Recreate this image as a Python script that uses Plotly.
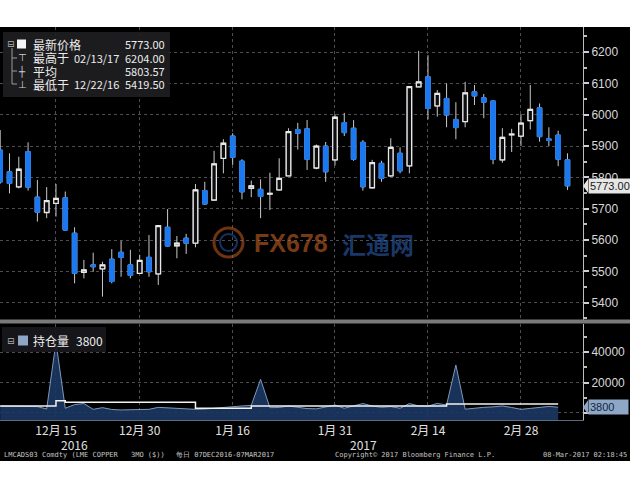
import plotly.graph_objects as go

# ---------------- data ----------------
dates = ["2016-12-07","2016-12-08","2016-12-09","2016-12-12","2016-12-13","2016-12-14","2016-12-15",
         "2016-12-16","2016-12-19","2016-12-20","2016-12-21","2016-12-22","2016-12-23","2016-12-28",
         "2016-12-29","2016-12-30","2017-01-03","2017-01-04","2017-01-05","2017-01-06","2017-01-09",
         "2017-01-10","2017-01-11","2017-01-12","2017-01-13","2017-01-16","2017-01-17","2017-01-18",
         "2017-01-19","2017-01-20","2017-01-23","2017-01-24","2017-01-25","2017-01-26","2017-01-27",
         "2017-01-30","2017-01-31","2017-02-01","2017-02-02","2017-02-03","2017-02-06","2017-02-07",
         "2017-02-08","2017-02-09","2017-02-10","2017-02-13","2017-02-14","2017-02-15","2017-02-16",
         "2017-02-17","2017-02-20","2017-02-21","2017-02-22","2017-02-23","2017-02-24","2017-02-27",
         "2017-02-28","2017-03-01","2017-03-02","2017-03-03","2017-03-06","2017-03-07"]

open_ = [5887,5818,5770,5882,5737,5688,5717,5735,5622,5497,5521,5508,5539,5561,5521,5494,
         5545,5492,5641,5582,5606,5590,5758,5728,5861,5932,5852,5765,5762,5747,5760,5805,
         5953,5955,5830,5900,5856,5975,5957,5912,5767,5845,5805,5877,5837,6089,6121,6028,
         6052,5985,5978,6073,6054,6044,5856,5936,5932,5981,6022,5923,5935,5856]
high = [5951,5877,5866,5912,5792,5769,5779,5755,5641,5537,5560,5531,5571,5598,5569,5553,
        5616,5648,5699,5613,5620,5779,5786,5885,5922,5941,5858,5790,5794,5815,5861,5957,
        5974,5983,5905,5913,6002,6006,5983,5919,5856,5853,5925,5896,6092,6204,6190,6079,
        6100,6040,6105,6095,6066,6045,5957,5955,6002,6095,6036,5960,5949,5877]
low = [5780,5749,5765,5758,5659,5670,5675,5630,5462,5478,5499,5419.5,5462,5483,5478,5492,
       5483,5457,5579,5542,5556,5577,5713,5726,5813,5840,5730,5737,5670,5696,5758,5804,
       5889,5824,5826,5786,5838,5932,5853,5758,5765,5786,5802,5813,5813,6088,5985,5994,
       5960,5922,5960,6031,5989,5842,5847,5881,5900,5953,5914,5900,5836,5760]
close = [5786,5781,5826,5769,5689,5726,5733,5632,5494,5505,5515,5521,5468,5545,5487,5535,
         5499,5646,5581,5590,5590,5760,5715,5843,5909,5864,5754,5773,5739,5749,5797,5946,
         5941,5858,5900,5818,5992,5943,5858,5770,5847,5797,5896,5821,6090,6105,6020,6068,
         5999,5959,6070,6060,6040,5858,5928,5938,5973,6017,5930,5918,5858,5773]

# open interest (持仓量); last trading day not yet reported
open_interest = [4500,4400,4300,4400,4200,2600,46500,3100,5500,6200,2400,3500,2300,2000,2100,2000,
                 2400,3700,3400,3200,3000,2400,2600,3200,3700,4000,4600,5000,22100,3500,3600,4600,
                 3800,2900,2700,3800,5200,3100,4800,6200,4600,3700,4200,3100,6200,4600,4500,6300,
                 5200,31500,2500,3200,3700,4000,4600,3600,2400,3000,3700,4300,3800,None]
oi_average = [4600,4600,4600,4600,4600,4600,8100,7000,7000,7000,7000,7000,7000,7000,7000,7000,
              7000,7000,7000,7000,7000,3100,3100,3100,3100,3100,3100,4600,4600,4600,4600,4600,
              4600,4600,4600,4600,4600,4600,4600,4600,4600,4600,4600,4600,4600,4600,4600,4600,
              5900,5900,5900,5900,5900,5900,5900,5900,5900,5900,5900,5900,5900,None]

tick_dates = ["2016-12-15","2016-12-30","2017-01-16","2017-01-31","2017-02-14","2017-02-28"]
tick_text = ["12月 15","12月 30","1月 16","1月 31","2月 14","2月 28"]
price_ticks = [5400,5500,5600,5700,5800,5900,6000,6100,6200]
oi_ticks = [0,20000,40000]
oi_tick_text = ["","20000","40000"]

last_price = 5773.00
high_price, high_date = 6204.00, "02/13/17"
avg_price = 5803.57
low_price, low_date = 5419.50, "12/22/16"
last_oi = 3800

# ---------------- style ----------------
BLUE = "#1a78f0"
WICK = "#c9c9c9"
WHITE = "#e8e8e8"
PLOT_BG = "#0c0c11"
FONT = "Noto Sans CJK SC, Liberation Sans, sans-serif"
NARROW = "Liberation Sans Narrow, Liberation Sans, sans-serif"
OI_MIN, OI_MAX = -4600, 58700

body_hi = [max(o, c) for o, c in zip(open_, close)]
body_lo = [min(o, c) for o, c in zip(open_, close)]
oi_floor = [OI_MIN if v is not None else None for v in open_interest]

fig = go.Figure()

# wicks
fig.add_trace(go.Candlestick(
    x=dates, open=open_, high=high, low=low, close=close,
    increasing=dict(line=dict(color=WICK, width=1), fillcolor="rgba(0,0,0,0)"),
    decreasing=dict(line=dict(color=WICK, width=1), fillcolor=BLUE),
    xaxis="x", yaxis="y", hoverinfo="skip", showlegend=False))
# bodies
fig.add_trace(go.Candlestick(
    x=dates, open=open_, high=body_hi, low=body_lo, close=close,
    increasing=dict(line=dict(color=WHITE, width=1.3), fillcolor=PLOT_BG),
    decreasing=dict(line=dict(color=BLUE, width=1), fillcolor=BLUE),
    xaxis="x", yaxis="y", hoverinfo="skip", showlegend=False))

# open interest area (filled down to panel floor)
fig.add_trace(go.Scatter(x=dates, y=oi_floor, mode="lines",
                         line=dict(width=0), xaxis="x2", yaxis="y2",
                         hoverinfo="skip", showlegend=False))
fig.add_trace(go.Scatter(x=dates, y=open_interest, mode="lines", fill="tonexty",
                         fillcolor="rgba(27,55,100,0.9)",
                         line=dict(color="#7f98ba", width=1),
                         xaxis="x2", yaxis="y2", hoverinfo="skip", showlegend=False))
fig.add_trace(go.Scatter(x=dates, y=oi_average, mode="lines", line=dict(color="#f2f2f2", width=1.5, shape="hv"),
                         xaxis="x2", yaxis="y2", hoverinfo="skip", showlegend=False))

H_TOP, H_BOT = 27, 420
PH = H_BOT - H_TOP
PW = 583


def px(x):
    return x / PW


def py(y):
    return (H_BOT - y) / PH


grid = dict(showgrid=True, gridcolor="#4c4c52", griddash="dot", gridwidth=1)

fig.update_layout(
    width=630, height=490,
    margin=dict(l=0, r=630 - PW, t=H_TOP, b=490 - H_BOT, autoexpand=False),
    paper_bgcolor="white", plot_bgcolor=PLOT_BG,
    showlegend=False, hovermode=False,
    font=dict(family=FONT, color="#dcdcdc"),
    xaxis=dict(domain=[0, 1], anchor="y", type="category", range=[-0.02, 62.67],
               tickvals=tick_dates, showticklabels=False, ticks="",
               rangeslider=dict(visible=False), zeroline=False, showline=False, **grid),
    xaxis2=dict(domain=[0, 1], anchor="y2", type="category", matches="x", range=[-0.02, 62.67],
                tickvals=tick_dates, ticktext=tick_text, ticks="",
                tickfont=dict(size=12, color="#e0e0e0", family=FONT),
                zeroline=False, showline=True, linecolor="#5a6b82", linewidth=1, **grid),
    yaxis=dict(domain=[py(320), 1], anchor="x", side="right", range=[5345, 6280],
               tickvals=price_ticks, ticktext=[str(v) for v in price_ticks],
               ticks="outside", ticklen=5, tickwidth=2, tickcolor="#cfcfcf",
               tickfont=dict(size=12, color="#d8d8d8", family=NARROW),
               minor=dict(dtick=50, tick0=5350, ticks="outside", ticklen=3, tickcolor="#bdbdbd", showgrid=False),
               showline=True, linecolor="#bdbdbd", linewidth=1, zeroline=False, **grid),
    yaxis2=dict(domain=[0, py(323.5)], anchor="x2", side="right", range=[OI_MIN, OI_MAX],
                tickvals=oi_ticks, ticktext=oi_tick_text,
                ticks="outside", ticklen=5, tickwidth=2, tickcolor="#cfcfcf",
                tickfont=dict(size=12, color="#d8d8d8", family=NARROW),
                minor=dict(dtick=10000, tick0=0, ticks="outside", ticklen=3, tickcolor="#bdbdbd", showgrid=False),
                showline=True, linecolor="#bdbdbd", linewidth=1, zeroline=False, **grid),
)

shapes = [
    dict(type="rect", xref="paper", yref="paper", x0=-0.01, x1=1.1, y0=py(461), y1=1.0,
         fillcolor="black", line=dict(width=0), layer="below"),
    dict(type="rect", xref="paper", yref="paper", x0=-0.01, x1=1.1, y0=py(323.5), y1=py(319.5),
         fillcolor="#7a7a7a", line=dict(width=0), layer="above"),
    dict(type="rect", xref="paper", yref="paper", x0=px(3), x1=px(170), y0=py(97), y1=py(32),
         fillcolor="rgba(30,30,34,0.92)", line=dict(width=0), layer="above"),
    dict(type="rect", xref="paper", yref="paper", x0=px(2), x1=px(106), y0=py(352), y1=py(327),
         fillcolor="rgba(24,24,28,0.92)", line=dict(width=0), layer="above"),
    dict(type="line", xref="paper", yref="paper", x0=px(12), x1=px(12), y0=py(84), y1=py(48),
         line=dict(color="#9a9a9a", width=1), layer="above"),
]
for yy in (58, 71, 84):
    shapes.append(dict(type="line", xref="paper", yref="paper", x0=px(12), x1=px(17), y0=py(yy), y1=py(yy),
                       line=dict(color="#9a9a9a", width=1), layer="above"))
shapes.append(dict(type="rect", xref="paper", yref="paper", x0=px(17), x1=px(26), y0=py(48.5), y1=py(39.5),
                   fillcolor="#f4f4f4", line=dict(width=0), layer="above"))
shapes.append(dict(type="rect", xref="paper", yref="paper", x0=px(18), x1=px(28), y0=py(345.5), y1=py(335.5),
                   fillcolor="#8ea7c7", line=dict(width=0), layer="above"))
# watermark ring
shapes.append(dict(type="circle", xref="paper", yref="paper", x0=px(214), x1=px(243), y0=py(257), y1=py(228),
                   line=dict(color="rgba(200,95,30,0.55)", width=3), layer="above"))
shapes.append(dict(type="circle", xref="paper", yref="paper", x0=px(220), x1=px(237), y0=py(251), y1=py(234),
                   line=dict(color="rgba(40,90,170,0.55)", width=2), layer="above"))
# pointer triangles for last-value boxes
shapes.append(dict(type="path", xref="paper", yref="y",
                   path=f"M {px(583)},{last_price} L {px(588)},{last_price + 22} L {px(588)},{last_price - 22} Z",
                   fillcolor="#e6e6e6", line=dict(width=0), layer="above"))
shapes.append(dict(type="path", xref="paper", yref="y2",
                   path=f"M {px(583)},{last_oi} L {px(588)},{last_oi + 4500} L {px(588)},{last_oi - 4500} Z",
                   fillcolor="#8ea7c7", line=dict(width=0), layer="above"))
fig.update_layout(shapes=shapes)

LEG_CN = dict(size=12, color="#ececec", family=FONT)
LEG_NUM = dict(size=11, color="#ececec", family=FONT)
SYM = dict(size=10, color="#d0d0d0", family="DejaVu Sans")
ann = []


def text(x, y, t, anchor="left", font=LEG_CN, **kw):
    ann.append(dict(xref="paper", yref="paper", x=px(x), y=py(y), text=t, showarrow=False,
                    xanchor=anchor, yanchor="middle", font=font, **kw))


# main legend
text(5, 44, "⊟", font=dict(size=9, color="#b0b0b0", family="DejaVu Sans"))
text(31, 44, "最新价格")
text(167, 44, f"{last_price:.2f}", anchor="right", font=LEG_NUM)
text(16, 58, "⊤", font=SYM)
text(31, 58, "最高于")
text(72, 58, high_date, font=LEG_NUM)
text(167, 58, f"{high_price:.2f}", anchor="right", font=LEG_NUM)
text(16, 71, "┼", font=SYM)
text(31, 71, "平均")
text(167, 71, f"{avg_price:.2f}", anchor="right", font=LEG_NUM)
text(16, 84, "⊥", font=SYM)
text(31, 84, "最低于")
text(72, 84, low_date, font=LEG_NUM)
text(167, 84, f"{low_price:.2f}", anchor="right", font=LEG_NUM)

# OI legend
text(5, 340.5, "⊟", font=dict(size=9, color="#b0b0b0", family="DejaVu Sans"))
text(31, 340.5, "持仓量")
text(74, 340.5, f"{last_oi}", font=dict(size=12, color="#ececec", family=FONT))

# year labels
text(74, 444, "2016", anchor="center", font=dict(size=12, color="#e0e0e0", family=FONT))
text(363, 444, "2017", anchor="center", font=dict(size=12, color="#e0e0e0", family=FONT))

# footer
FOOT = dict(size=7, color="#c4c4c4", family="DejaVu Sans Mono")
text(2, 455, "LMCADS03 Comdty (LME COPPER", font=FOOT)
text(129, 455, "3MO ($))", font=FOOT)
text(174, 455, "每日 07DEC2016-07MAR2017", font=FOOT)
text(333, 455, "Copyright© 2017 Bloomberg Finance L.P.", font=FOOT)
text(629, 455, "08-Mar-2017 02:18:45", anchor="right", font=FOOT)

# watermark
text(291, 243, "FX678", anchor="center",
     font=dict(size=25, color="rgba(200,100,35,0.6)", family="Liberation Sans", weight="bold"))
text(378, 243, "汇通网", anchor="center",
     font=dict(size=24, color="rgba(45,95,175,0.6)", family=FONT, weight="bold"))

# last value boxes
ann.append(dict(xref="paper", yref="y", x=px(588), y=last_price, text=f"{last_price:.2f}", showarrow=False,
                xanchor="left", yanchor="middle", bgcolor="#e6e6e6", borderpad=1,
                font=dict(size=11, color="#1a1a1a", family=NARROW)))
ann.append(dict(xref="paper", yref="y2", x=px(588), y=last_oi, text=f"{last_oi}    ", showarrow=False,
                xanchor="left", yanchor="middle", bgcolor="#8ea7c7", borderpad=1,
                font=dict(size=11, color="#132640", family=NARROW)))

fig.update_layout(annotations=ann)

fig.write_html("out.html", config={"displayModeBar": False, "staticPlot": True},
               post_script="document.body.style.margin='0';document.body.style.overflow='hidden';")
